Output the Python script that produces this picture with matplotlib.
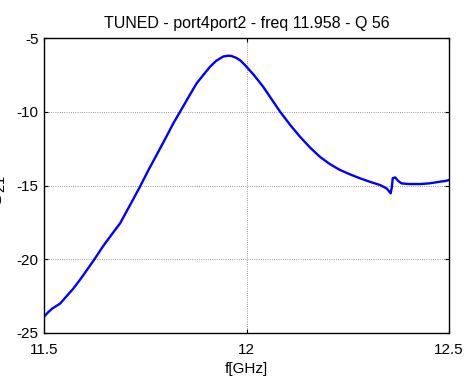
import matplotlib
matplotlib.use("Agg")
import matplotlib.pyplot as plt

freq = [11.500, 11.510, 11.520, 11.540, 11.556, 11.572, 11.590, 11.608, 11.626, 11.645,
        11.665, 11.688, 11.712, 11.737, 11.757, 11.778, 11.800, 11.820, 11.836, 11.857,
        11.877, 11.895, 11.910, 11.925, 11.943, 11.955, 11.963, 11.975, 11.986, 11.996,
        12.018, 12.041, 12.062, 12.083, 12.108, 12.132, 12.156, 12.181, 12.206, 12.231,
        12.256, 12.280, 12.305, 12.330, 12.346, 12.352, 12.356, 12.359, 12.361, 12.367,
        12.375, 12.383, 12.400, 12.412, 12.430, 12.449, 12.465, 12.478, 12.490, 12.500]
s21 = [-23.90, -23.60, -23.35, -23.00, -22.50, -22.00, -21.35, -20.65, -19.94, -19.15,
       -18.40, -17.56, -16.35, -15.08, -14.00, -12.93, -11.80, -10.75, -10.00, -9.00,
       -8.07, -7.45, -6.95, -6.55, -6.25, -6.20, -6.22, -6.35, -6.55, -6.83,
       -7.50, -8.30, -9.15, -10.00, -10.90, -11.69, -12.40, -13.05, -13.55, -13.95,
       -14.25, -14.51, -14.75, -14.97, -15.20, -15.40, -15.53, -15.10, -14.51, -14.45,
       -14.70, -14.86, -14.90, -14.90, -14.90, -14.86, -14.80, -14.74, -14.70, -14.63]

title = "TUNED - port4port2 - freq 11.958 - Q 56"
xticks = [11.5, 12, 12.5]
xticklabels = ["11.5", "12", "12.5"]
yticks = [-25, -20, -15, -10, -5]
yticklabels = ["-25", "-20", "-15", "-10", "-5"]

plt.rcParams['font.family'] = ['Liberation Sans', 'DejaVu Sans']
plt.rcParams['mathtext.fontset'] = 'custom'
plt.rcParams['mathtext.rm'] = 'Liberation Sans'
plt.rcParams['mathtext.it'] = 'Liberation Sans:italic'
fig = plt.figure(figsize=(4.68, 3.84), dpi=100)
ax = fig.add_axes([44/468, 1-333/384, (449-44)/468, (333-38)/384])
ax.plot(freq, s21, color=(0, 0, 1), linewidth=1.7)
ax.set_xlim(11.5, 12.5)
ax.set_ylim(-25, -5)
ax.set_xticks(xticks)
ax.set_xticklabels(xticklabels)
ax.set_yticks(yticks)
ax.set_yticklabels(yticklabels)
ax.grid(True, color='#555555', linestyle=':', linewidth=0.6, alpha=0.8)
ax.tick_params(direction='in', length=3, width=0.8, top=True, right=True, labelsize=11)
ax.tick_params(axis='x', pad=7)
ax.tick_params(axis='y', pad=4)
for sp in ax.spines.values():
    sp.set_linewidth(1.0)
ax.set_title(title, fontsize=11.5, pad=7)
ax.set_xlabel("f[GHz]", fontsize=11, labelpad=4)
ax.set_ylabel(r"$\mathrm{S}_{21}$", fontsize=15)
ax.yaxis.set_label_coords(-0.089, 0.48)
fig.savefig("out.png", dpi=100)
